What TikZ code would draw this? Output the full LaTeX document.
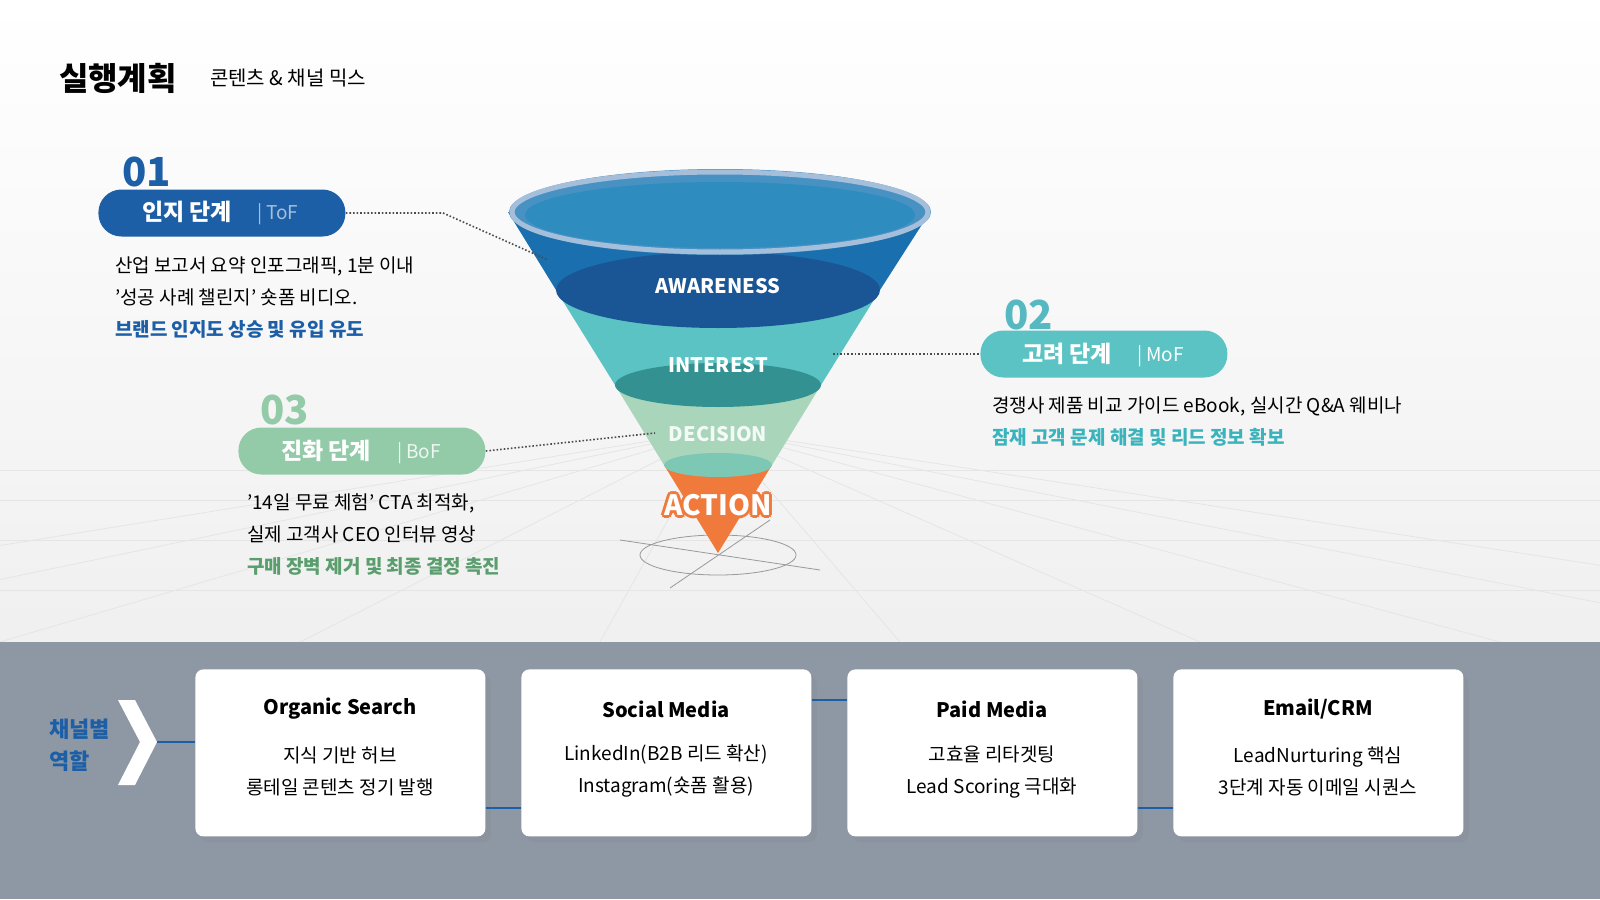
\documentclass[tikz,border=0pt]{standalone}
\usepackage{fontspec}
\setmainfont{Noto Sans CJK KR}
\usetikzlibrary{shapes.geometric,shadows}
\definecolor{navy}{HTML}{1D5FA6}
\definecolor{teal}{HTML}{5CC3C4}
\definecolor{tealt}{HTML}{3BB3BD}
\definecolor{sage}{HTML}{93CBA9}
\definecolor{saget}{HTML}{5A9E6E}
\definecolor{band}{HTML}{8E97A4}
\definecolor{orng}{HTML}{F07A3C}
\begin{document}
\begin{tikzpicture}[x=0.5pt,y=-0.5pt,
  pill/.style={rounded corners=11.5pt,minimum width=123.5pt,minimum height=23.5pt,anchor=west,inner sep=0},
  num/.style={font=\bfseries\fontsize{20}{20}\selectfont,anchor=west},
  body/.style={font=\fontsize{9.5}{16}\selectfont,anchor=west,align=left},
  card/.style={fill=white,rounded corners=4pt,minimum width=145pt,minimum height=83.5pt,anchor=north west,drop shadow={opacity=0.15,shadow yshift=-3pt}},
  ct/.style={font=\bfseries\fontsize{10}{10}\selectfont},
  cb/.style={font=\fontsize{9.5}{16}\selectfont,align=center},
  dl/.style={densely dotted,thick,black!70},
  flab/.style={text=white,font=\bfseries\fontsize{10}{10}\selectfont},
  actf/.style={font=\bfseries\fontsize{14}{14}\selectfont}]
\useasboundingbox (0,0) rectangle (1600,899);
\clip (0,0) rectangle (1600,899);
\fill[top color=white,bottom color=black!6] (0,0) rectangle (1600,642);
\foreach \y in {470,500,540,590}{\draw[black!10] (0,\y)--(1600,\y);}
\foreach \x in {-600,-300,0,300,600,900,1200,1500,1800,2100}{\draw[black!10] (718,430)--(\x,642);}
\fill[band] (0,642) rectangle (1600,899);
\node[font=\bfseries\fontsize{16}{16}\selectfont,anchor=west] (title) at (52,78) {실행계획};
\node[font=\fontsize{10}{10}\selectfont,anchor=west] (sub) at (203,78) {콘텐츠 \& 채널 믹스};
% funnel
\draw[black!40] (718,555) ellipse [x radius=78,y radius=20];
\draw[black!40] (620,540)--(820,570) (670,588)--(770,520);
\fill[orng] (664,465)--(772,465)--(718,553)--cycle;
\fill[sage!80] (615,385)--(821,385)--(772,465)--(664,465)--cycle;
\fill[sage!60!teal] (718,465) ellipse [x radius=54,y radius=12];
\fill[teal] (556,290)--(880,290)--(821,385)--(615,385)--cycle;
\fill[teal!80!cyan!70!black] (718,385) ellipse [x radius=103,y radius=22];
\fill[navy!90!cyan] (508,212)--(930,212)--(880,290)--(556,290)--cycle;
\fill[navy!90!black] (718,290) ellipse [x radius=162,y radius=38];
\fill[navy!85!cyan!80!white] (720,212) ellipse [x radius=211,y radius=43];
\draw[navy!40,line width=2.5pt] (720,212) ellipse [x radius=208,y radius=40];
\fill[navy!80!cyan!90!white] (720,215) ellipse [x radius=195,y radius=33];
\node[flab] (aw) at (718,286) {AWARENESS};
\node[flab] (in) at (718,365) {INTEREST};
\node[flab,text=white!90!sage] (de) at (718,434) {DECISION};
\foreach \dx/\dy in {-3/0,3/0,0/-3,0/3,-2/-2,2/2,-2/2,2/-2}{\node[actf,text=orng] at (718+\dx,505+\dy) {ACTION};}
\node[actf,text=white] (ac) at (718,505) {ACTION};
% 01
\node[num,text=navy] (n1) at (115,172) {01};
\node[pill,fill=navy] (p1) at (98,213) {};
\node[text=white,font=\bfseries\fontsize{11.5}{11.5}\selectfont] at (187,212) {인지 단계};
\node[text=white!60!navy,font=\fontsize{9.5}{9.5}\selectfont,anchor=west] at (250,214) {|\ ToF};
\coordinate (k1) at (443,213);
\draw[dl] (p1.east)--(k1)--(548,260);
\node[body] at (108,298) {산업 보고서 요약 인포그래픽, 1분 이내\\'성공 사례 챌린지' 숏폼 비디오.\\\textcolor{navy}{\bfseries 브랜드 인지도 상승 및 유입 유도}};
% 02
\node[num,text=teal!90!navy] (n2) at (997,315) {02};
\node[pill,fill=teal] (p2) at (980,354) {};
\node[text=white,font=\bfseries\fontsize{11.5}{11.5}\selectfont] at (1067,354) {고려 단계};
\node[text=white,font=\fontsize{9.5}{9.5}\selectfont,anchor=west] at (1130,356) {|\ MoF};
\coordinate (k2) at (833,354);
\draw[dl] (k2)--(p2.west);
\node[body] at (985,422) {경쟁사 제품 비교 가이드 eBook, 실시간 Q\&A 웨비나\\\textcolor{tealt}{\bfseries 잠재 고객 문제 해결 및 리드 정보 확보}};
% 03
\node[num,text=sage] (n3) at (253,410) {03};
\node[pill,fill=sage] (p3) at (238,451) {};
\node[text=white,font=\bfseries\fontsize{11.5}{11.5}\selectfont] at (326,451) {진화 단계};
\node[text=white!85!sage,font=\fontsize{9.5}{9.5}\selectfont,anchor=west] at (390,453) {|\ BoF};
\coordinate (k3) at (655,433);
\draw[dl] (p3.east)--(k3);
\node[body] at (240,534) {'14일 무료 체험' CTA 최적화,\\실제 고객사 CEO 인터뷰 영상\\\textcolor{saget}{\bfseries 구매 장벽 제거 및 최종 결정 촉진}};
% bottom
\node[text=navy,font=\bfseries\fontsize{11}{16}\selectfont,align=left,anchor=west] (ch) at (42,745) {채널별\\역할};
\fill[white] (118,700)--(135,700)--(157,742)--(135,785)--(118,785)--(140,742)--cycle;
\node[card] (c1) at (195,669) {};
\node[card] (c2) at (521,669) {};
\node[card] (c3) at (847,669) {};
\node[card] (c4) at (1173,669) {};
\coordinate (s0) at (157,742);
\draw[navy,thick] (s0)--(c1.west|-s0);
\draw[navy,thick] (c1.east|-0,808)--(c2.west|-0,808);
\draw[navy,thick] (c2.east|-0,700)--(c3.west|-0,700);
\draw[navy,thick] (c3.east|-0,808)--(c4.west|-0,808);
\node[ct] at (340,709) {Organic Search};
\node[cb] at (340,771) {지식 기반 허브\\롱테일 콘텐츠 정기 발행};
\node[ct] at (666,709) {Social Media};
\node[cb] at (666,771) {LinkedIn(B2B 리드 확산)\\Instagram(숏폼 활용)};
\node[ct] at (992,709) {Paid Media};
\node[cb] at (992,772) {고효율 리타겟팅\\Lead Scoring 극대화};
\node[ct] at (1318,709) {Email/CRM};
\node[cb] at (1318,771) {LeadNurturing 핵심\\3단계 자동 이메일 시퀀스};
\end{tikzpicture}
\end{document}
